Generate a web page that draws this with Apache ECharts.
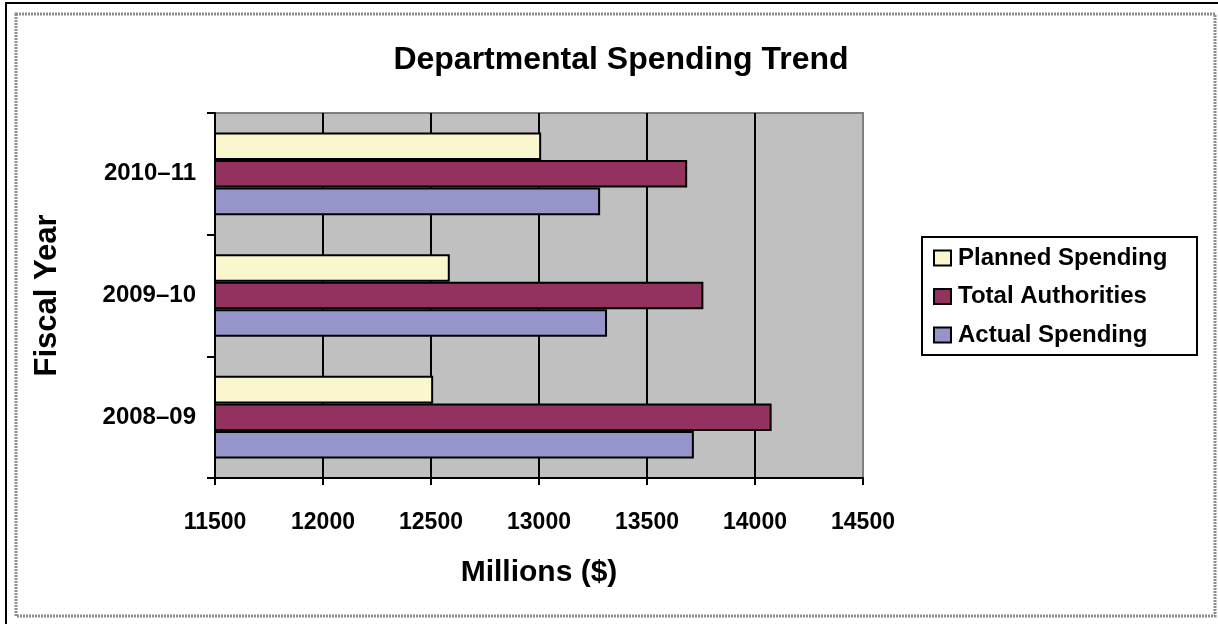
<!DOCTYPE html>
<html>
<head>
<meta charset="utf-8">
<script src="https://cdn.jsdelivr.net/npm/echarts@6/dist/echarts.min.js"></script>
<style>
html,body{margin:0;padding:0;background:#fff;}
#chart{width:1218px;height:624px;}
</style>
</head>
<body>
<div id="chart"></div>
<script>
const categories = ['2008–09', '2009–10', '2010–11'];
const plannedSpending = [12510, 12587, 13010];
const totalAuthorities = [14077, 13761, 13686];
const actualSpending = [13717, 13315, 13283];
const seriesNames = ['Planned Spending', 'Total Authorities', 'Actual Spending'];
const xTicks = { min: 11500, max: 14500, interval: 500 };

const FONT = '"Liberation Sans", Arial, sans-serif';
const chart = echarts.init(document.getElementById('chart'), null, { renderer: 'canvas' });

const barStyle = (color) => ({ color: color, borderColor: '#000', borderWidth: 2 });

chart.setOption({
  animation: false,
  backgroundColor: '#fff',
  title: {
    text: 'Departmental Spending Trend',
    left: 616, top: 39, textAlign: 'center',
    textStyle: { fontFamily: FONT, fontWeight: 'bold', fontSize: 32, color: '#000' }
  },
  grid: {
    left: 215, right: 355, top: 113, bottom: 146,
    show: true, backgroundColor: '#C0C0C0', borderColor: '#808080', borderWidth: 2
  },
  legend: {
    orient: 'vertical', left: 933, top: 246, padding: 0,
    itemWidth: 17, itemHeight: 15, itemGap: 14.5,
    icon: 'rect',
    data: seriesNames,
    textStyle: { fontFamily: FONT, fontWeight: 'bold', fontSize: 24, lineHeight: 24, color: '#000', padding: [0, 0, 0, 2] }
  },
  xAxis: {
    type: 'value', min: xTicks.min, max: xTicks.max, interval: xTicks.interval,
    name: 'Millions ($)', nameLocation: 'middle', nameGap: 80,
    nameTextStyle: { fontFamily: FONT, fontWeight: 'bold', fontSize: 30, color: '#000' },
    axisLine: { show: true, lineStyle: { color: '#000', width: 2 } },
    axisTick: { show: true, length: 7, lineStyle: { color: '#000', width: 2 } },
    axisLabel: { margin: 33, fontFamily: FONT, fontWeight: 'bold', fontSize: 23, color: '#000', formatter: (v) => String(v) },
    splitLine: { show: true, showMaxLine: false, lineStyle: { color: '#000', width: 2 } }
  },
  yAxis: {
    type: 'category', data: categories,
    name: 'Fiscal Year', nameLocation: 'middle', nameGap: 152,
    nameTextStyle: { fontFamily: FONT, fontWeight: 'bold', fontSize: 31, color: '#000' },
    axisLine: { show: true, lineStyle: { color: '#000', width: 2 } },
    axisTick: { show: true, length: 8, lineStyle: { color: '#000', width: 2 } },
    axisLabel: { margin: 19, fontFamily: FONT, fontWeight: 'bold', fontSize: 24, color: '#000' },
    splitLine: { show: false }
  },
  series: [
    { name: seriesNames[0], type: 'bar', data: plannedSpending, barGap: '0%', barCategoryGap: '32%', itemStyle: barStyle('#FAF7CF') },
    { name: seriesNames[1], type: 'bar', data: totalAuthorities, barGap: '0%', barCategoryGap: '32%', itemStyle: barStyle('#93315F') },
    { name: seriesNames[2], type: 'bar', data: actualSpending, barGap: '0%', barCategoryGap: '32%', itemStyle: barStyle('#9595C9') }
  ],
  graphic: [
    { type: 'polyline', shape: { points: [[6, 624], [6, 3], [1218, 3]] }, style: { stroke: '#000', lineWidth: 2, fill: null }, silent: true },
    { type: 'rect', shape: { x: 16, y: 14, width: 1199, height: 602 }, style: { stroke: '#8c8c8c', lineWidth: 3, lineDash: [2, 1], fill: null }, silent: true },
    { type: 'rect', shape: { x: 922, y: 237, width: 275, height: 118 }, style: { stroke: '#000', lineWidth: 2, fill: null }, silent: true }
  ]
});
</script>
</body>
</html>
